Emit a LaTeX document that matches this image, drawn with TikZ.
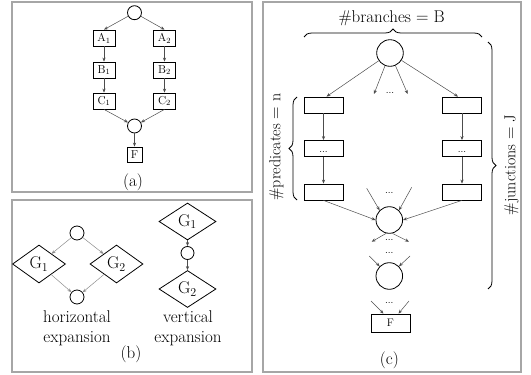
\documentclass[tikz,border=0pt]{standalone}
\usetikzlibrary{shapes.geometric,arrows.meta,decorations.pathreplacing}
\begin{document}
\begin{tikzpicture}[x=1pt,y=-1pt,
  font=\fontsize{17}{20}\selectfont,
  frame/.style={draw=black!35, line width=1.3pt},
  box/.style={draw, line width=0.8pt, minimum width=22pt, minimum height=16pt, inner sep=1pt, font=\fontsize{11.5}{13}\selectfont},
  cbox/.style={draw, line width=0.8pt, minimum width=39pt, minimum height=16pt, inner sep=0pt, font=\fontsize{10}{12}\selectfont},
  dot/.style={draw, circle, line width=0.8pt, minimum size=14pt, inner sep=0pt},
  bigdot/.style={draw, circle, line width=0.8pt, minimum size=26.6pt, inner sep=0pt},
  dia/.style={draw, diamond, line width=0.8pt, minimum width=53pt, minimum height=38pt, inner sep=0pt},
  arr/.style={-{Stealth[length=4pt,width=3.2pt]}, line width=0.5pt, draw=black!70},
  garr/.style={-{Stealth[length=4pt,width=3.2pt]}, line width=0.5pt, draw=black!45},
  dots/.style={font=\fontsize{10}{12}\selectfont, inner sep=0pt},
  brc/.style={decorate, decoration={brace, amplitude=8pt}, line width=0.8pt}
]
\useasboundingbox (0,0) rectangle (531,375);
% frames
\draw[frame] (12,2) rectangle (252,192);
\draw[frame] (12,200) rectangle (252,372);
\draw[frame] (263,2) rectangle (521,372);

% ---------- (a)
\node[dot] (a0) at (134.5,12.7) {};
\node[box] (A1) at (104,38) {A$_1$};
\node[box] (A2) at (164.5,38) {A$_2$};
\node[box] (B1) at (104,70) {B$_1$};
\node[box] (B2) at (164.5,70) {B$_2$};
\node[box] (C1) at (104,101) {C$_1$};
\node[box] (C2) at (164.5,101) {C$_2$};
\node[dot] (a9) at (134.5,126) {};
\node[box, minimum width=15pt, minimum height=15pt] (Fa) at (134.5,154.5) {F};
\node (la) at (133,182) {(a)};
\draw[arr] (a0) -- (A1.north);
\draw[arr] (a0) -- (A2.north);
\draw[arr] (A1) -- (B1);
\draw[arr] (B1) -- (C1);
\draw[arr] (A2) -- (B2);
\draw[arr] (B2) -- (C2);
\draw[arr] (C1.south) -- (a9);
\draw[arr] (C2.south) -- (a9);
\draw[arr] (a9) -- (Fa);

% ---------- (b)
\node[dot] (b0) at (77,233) {};
\node[dia] (G1) at (39,264) {G$_1$};
\node[dia] (G2) at (116.5,264) {G$_2$};
\node[dot] (b9) at (77,297) {};
\draw[garr] (b0) -- (G1);
\draw[garr] (b0) -- (G2);
\draw[garr] (G1) -- (b9);
\draw[garr] (G2) -- (b9);
\node[align=center] (hl) at (77,328) {horizontal\\expansion};
\node[dia, minimum width=57pt, minimum height=37pt] (V1) at (187.5,221.5) {G$_1$};
\node[dot, minimum size=13pt] (v0) at (187.5,253) {};
\node[dia, minimum width=57pt, minimum height=37pt] (V2) at (187.5,289) {G$_2$};
\draw[arr] (V1) -- (v0);
\draw[arr] (v0) -- (V2);
\node[align=center] (vl) at (188,328) {vertical\\expansion};
\node (lb) at (131,354) {(b)};

% ---------- (c)
\node (tb) at (391.7,18) {\#branches $=$ B};
\draw[brc] (304,37) -- (482,37);
\node[rotate=90, font=\fontsize{16}{19}\selectfont] (tp) at (276.5,147) {\#predicates $=$ n};
\draw[brc] (297,200) -- (297,97);
\node[rotate=90, font=\fontsize{16}{19}\selectfont] (tj) at (511.5,165) {\#junctions $=$ J};
\draw[brc] (488,42) -- (488,289);

\node[bigdot] (c0) at (390,53) {};
\node[cbox] (L1) at (323.5,105) {};
\node[cbox] (R1) at (462,105) {};
\node[cbox] (L2) at (323.5,148.5) {\vphantom{A}...};
\node[cbox] (R2) at (462,148.5) {\vphantom{A}...};
\node[cbox] (L3) at (323.5,192) {};
\node[cbox] (R3) at (462,192) {};
\node[bigdot] (J1) at (389.3,220) {};
\node[bigdot] (J2) at (389.3,276) {};
\node[cbox, minimum height=18pt, font=\fontsize{11}{13}\selectfont] (Fc) at (390.5,323) {F};
\node (lc) at (389.3,360) {(c)};

\coordinate (t1) at (374,94);
\coordinate (t2) at (407.7,94);
\node[dots] (d0) at (390,93) {...};
\draw[arr] (c0) -- ([xshift=3pt]L1.north);
\draw[arr] (c0) -- ([xshift=-4pt]R1.north);
\draw[arr] (c0) -- (t1);
\draw[arr] (c0) -- (t2);
\draw[arr] (L1) -- (L2);
\draw[arr] (L2) -- (L3);
\draw[arr] (R1) -- (R2);
\draw[arr] (R2) -- (R3);
\draw[arr] (L3.south) -- (J1.west);
\draw[arr] (R3.south) -- (J1.east);

\coordinate (i1) at (366.7,188.3);
\coordinate (i2) at (411.7,187.3);
\node[dots] (d1) at (389.3,192.5) {...};
\draw[arr] (i1) -- (J1.135);
\draw[arr] (i2) -- (J1.45);

\coordinate (o1) at (371.7,241.7);
\coordinate (o2) at (409,241.7);
\node[dots] (d2) at (389.3,239.5) {...};
\node[dots] (d3) at (389.3,252.5) {...};
\draw[arr] (J1.257) -- (o1);
\draw[arr] (J1.283) -- (o2);

\coordinate (k1) at (369.3,256);
\coordinate (k2) at (410,256);
\draw[arr] (k1) -- (J2.135);
\draw[arr] (k2) -- (J2.45);

\coordinate (f1) at (371,301);
\coordinate (f2) at (409,301);
\node[dots] (d4) at (389.3,302.5) {...};
\draw[arr] (f1) -- ([xshift=-7pt]Fc.north);
\draw[arr] (f2) -- ([xshift=8pt]Fc.north);
\end{tikzpicture}
\end{document}
